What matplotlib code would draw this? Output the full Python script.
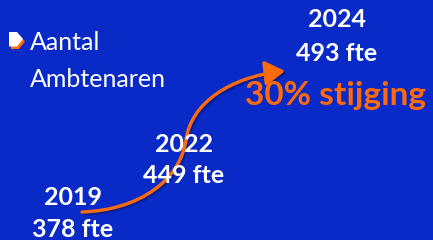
import matplotlib
matplotlib.use("Agg")
import matplotlib.pyplot as plt
from matplotlib.path import Path
from matplotlib.patches import FancyArrowPatch, Polygon
import matplotlib.patheffects as pe

# ---- data ----
title_lines = ["Aantal", "Ambtenaren"]
years = ["2019", "2022", "2024"]
fte = [378, 449, 493]
growth_label = "30% stijging"

# ---- layout (pixel coordinates, y downwards; x centre, baseline year, baseline fte) ----
label_pos = [(73, 205, 237), (184, 152, 183), (337, 27, 61)]

BG = "#0A2AC8"
ORANGE = "#FF6A0A"
WHITE = "#FFFFFF"

fig = plt.figure(figsize=(4.33, 2.40), dpi=100)
fig.patch.set_facecolor(BG)
ax = fig.add_axes([0, 0, 1, 1])
ax.set_xlim(0, 433)
ax.set_ylim(240, 0)
ax.axis("off")
ax.set_facecolor(BG)

# bullet
ax.add_patch(Polygon([(11, 35), (19, 35), (25, 41.5), (19, 49), (11, 49)], closed=True,
                     facecolor=ORANGE, edgecolor="none"))
ax.add_patch(Polygon([(9, 32), (17, 32), (23, 39), (17, 46.5), (9, 46.5)], closed=True,
                     facecolor=WHITE, edgecolor="none"))

ax.text(30, 50, title_lines[0], color=WHITE, fontsize=18, family="Lato",
        ha="left", va="baseline")
ax.text(30, 87, title_lines[1], color=WHITE, fontsize=18, family="Lato",
        ha="left", va="baseline")

# curved arrow
verts = [(82, 212), (140, 210), (180, 180), (186, 140),
         (191, 103), (230, 77), (285, 71)]
codes = [Path.MOVETO, Path.CURVE4, Path.CURVE4, Path.CURVE4,
         Path.CURVE4, Path.CURVE4, Path.CURVE4]
arrow = FancyArrowPatch(path=Path(verts, codes), arrowstyle="-|>,head_length=5.5,head_width=3.4",
                        color=ORANGE, linewidth=2.4, mutation_scale=2.2,
                        path_effects=[pe.SimpleLineShadow(offset=(1.5, -1.5), shadow_color="#061a80", alpha=0.6),
                                      pe.Normal()])
ax.add_patch(arrow)

for (x, y1, y2), yr, v in zip(label_pos, years, fte):
    ax.text(x, y1, yr, color=WHITE, fontsize=18, fontweight="bold", family="Lato",
            ha="center", va="baseline")
    ax.text(x, y2, f"{v} fte", color=WHITE, fontsize=18, fontweight="bold", family="Lato",
            ha="center", va="baseline")

ax.text(336, 105, growth_label, color=ORANGE, fontsize=24, fontweight="bold", family="Lato",
        ha="center", va="baseline")

fig.savefig("out.png", dpi=100, facecolor=BG)
